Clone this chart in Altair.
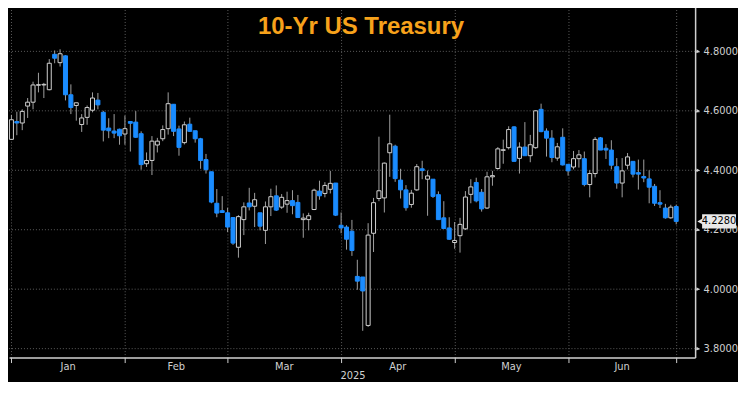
import altair as alt
import pandas as pd
import numpy as np

# ---- data ----
opens = [4.504, 4.564, 4.559, 4.616, 4.629, 4.686, 4.687, 4.671, 4.790, 4.762,
         4.785, 4.654, 4.618, 4.554, 4.578, 4.602, 4.636, 4.595, 4.542, 4.532,
         4.538, 4.522, 4.564, 4.562, 4.523, 4.422, 4.433, 4.485, 4.506, 4.540,
         4.622, 4.539, 4.493, 4.555, 4.533, 4.506, 4.436, 4.395, 4.289, 4.264,
         4.257, 4.241, 4.141, 4.234, 4.290, 4.279, 4.257, 4.198, 4.277, 4.314,
         4.276, 4.286, 4.298, 4.292, 4.234, 4.234, 4.268, 4.330, 4.322, 4.336,
         4.357, 4.215, 4.209, 4.195, 4.043, 4.041, 3.878, 4.188, 4.305, 4.307,
         4.459, 4.481, 4.367, 4.334, 4.285, 4.334, 4.405, 4.370, 4.370, 4.318,
         4.240, 4.206, 4.157, 4.180, 4.203, 4.319, 4.359, 4.326, 4.273, 4.378,
         4.406, 4.467, 4.476, 4.546, 4.440, 4.478, 4.449, 4.476, 4.605, 4.532,
         4.508, 4.441, 4.511, 4.420, 4.411, 4.439, 4.439, 4.352, 4.389, 4.509,
         4.474, 4.468, 4.412, 4.357, 4.417, 4.430, 4.392, 4.379, 4.371, 4.346,
         4.291, 4.273, 4.240, 4.278]
highs = [4.586, 4.597, 4.605, 4.643, 4.698, 4.728, 4.694, 4.774, 4.803, 4.807,
         4.787, 4.689, 4.627, 4.589, 4.618, 4.662, 4.660, 4.600, 4.575, 4.589,
         4.540, 4.584, 4.564, 4.599, 4.531, 4.460, 4.515, 4.509, 4.551, 4.662,
         4.622, 4.550, 4.564, 4.577, 4.533, 4.509, 4.455, 4.395, 4.337, 4.313,
         4.274, 4.241, 4.249, 4.292, 4.341, 4.324, 4.257, 4.295, 4.338, 4.349,
         4.320, 4.328, 4.333, 4.317, 4.255, 4.257, 4.338, 4.365, 4.360, 4.398,
         4.357, 4.258, 4.215, 4.233, 4.099, 4.041, 4.222, 4.307, 4.513, 4.426,
         4.587, 4.486, 4.405, 4.350, 4.334, 4.421, 4.432, 4.399, 4.370, 4.329,
         4.296, 4.242, 4.226, 4.240, 4.330, 4.370, 4.375, 4.337, 4.395, 4.398,
         4.478, 4.503, 4.548, 4.548, 4.494, 4.562, 4.519, 4.602, 4.624, 4.541,
         4.535, 4.492, 4.541, 4.420, 4.465, 4.468, 4.463, 4.400, 4.512, 4.512,
         4.488, 4.501, 4.441, 4.441, 4.458, 4.430, 4.436, 4.436, 4.400, 4.354,
         4.333, 4.287, 4.284, 4.284]
lows = [4.502, 4.518, 4.535, 4.576, 4.605, 4.662, 4.643, 4.669, 4.760, 4.749,
        4.635, 4.589, 4.567, 4.529, 4.553, 4.595, 4.605, 4.497, 4.508, 4.508,
        4.486, 4.486, 4.463, 4.509, 4.402, 4.411, 4.384, 4.460, 4.498, 4.520,
        4.515, 4.449, 4.487, 4.529, 4.493, 4.405, 4.389, 4.289, 4.242, 4.257,
        4.192, 4.149, 4.106, 4.182, 4.265, 4.209, 4.198, 4.152, 4.246, 4.263,
        4.270, 4.257, 4.252, 4.241, 4.173, 4.198, 4.266, 4.301, 4.309, 4.322,
        4.246, 4.188, 4.133, 4.112, 3.998, 3.860, 3.873, 4.125, 4.296, 4.258,
        4.378, 4.361, 4.305, 4.264, 4.274, 4.331, 4.370, 4.247, 4.307, 4.234,
        4.204, 4.166, 4.136, 4.123, 4.199, 4.289, 4.292, 4.261, 4.270, 4.348,
        4.402, 4.422, 4.470, 4.430, 4.389, 4.449, 4.427, 4.472, 4.528, 4.446,
        4.427, 4.432, 4.416, 4.382, 4.403, 4.409, 4.346, 4.309, 4.376, 4.468,
        4.438, 4.403, 4.338, 4.309, 4.403, 4.376, 4.335, 4.360, 4.289, 4.280,
        4.273, 4.237, 4.237, 4.218]
closes = [4.570, 4.559, 4.598, 4.629, 4.687, 4.688, 4.689, 4.760, 4.777, 4.792,
          4.654, 4.611, 4.627, 4.576, 4.611, 4.643, 4.620, 4.535, 4.533, 4.525,
          4.516, 4.540, 4.558, 4.511, 4.419, 4.433, 4.498, 4.498, 4.537, 4.624,
          4.531, 4.477, 4.553, 4.531, 4.506, 4.433, 4.402, 4.293, 4.256, 4.258,
          4.209, 4.155, 4.244, 4.277, 4.277, 4.301, 4.212, 4.277, 4.311, 4.266,
          4.309, 4.298, 4.281, 4.241, 4.239, 4.247, 4.333, 4.314, 4.349, 4.356,
          4.249, 4.206, 4.168, 4.130, 4.027, 3.994, 4.182, 4.291, 4.331, 4.424,
          4.489, 4.372, 4.334, 4.274, 4.323, 4.412, 4.399, 4.381, 4.312, 4.234,
          4.204, 4.168, 4.164, 4.218, 4.310, 4.344, 4.297, 4.270, 4.378, 4.382,
          4.472, 4.469, 4.537, 4.430, 4.478, 4.449, 4.486, 4.600, 4.530, 4.508,
          4.443, 4.479, 4.418, 4.398, 4.439, 4.452, 4.352, 4.389, 4.504, 4.468,
          4.468, 4.417, 4.357, 4.398, 4.445, 4.387, 4.387, 4.374, 4.343, 4.289,
          4.286, 4.240, 4.276, 4.228]

month_names = ["Jan", "Feb", "Mar", "Apr", "May", "Jun"]
month_starts = [1, 22, 41, 62, 83, 104, 124]   # trading-day index of first day of each month
major_ticks = [3.8, 4.0, 4.2, 4.4, 4.6, 4.8]
all_ticks = [3.8, 3.9, 4.0, 4.1, 4.2, 4.3, 4.4, 4.5, 4.6, 4.7, 4.8, 4.9]
title_text = "10-Yr US Treasury"
year_label = "2025"

# ---- layout ----
W, H = 688, 358
X_DOMAIN = [0.55, 127.5]
Y_DOMAIN = [3.770, 4.971]
BLUE = "#1a8cff"
LIGHT = "#d0d0d0"
GRID = "#5c5c5c"
FONT = "Liberation Sans Narrow, DejaVu Sans Condensed, Liberation Sans, sans-serif"

df = pd.DataFrame({
    "i": np.arange(1, len(opens) + 1),
    "open": opens, "high": highs, "low": lows, "close": closes,
})
df["dir"] = np.where(df["close"] >= df["open"], "up", "down")

xs = alt.Scale(domain=X_DOMAIN, nice=False, zero=False, padding=0)
ys = alt.Scale(domain=Y_DOMAIN, nice=False, zero=False, padding=0)

x_axis = alt.Axis(values=month_starts, labels=False, ticks=True, tickSize=5,
                  tickColor=LIGHT, domainColor=LIGHT, domainWidth=1.5,
                  grid=True, gridColor=GRID, gridDash=[1, 2], title=None)
y_axis = alt.Axis(orient="right", values=all_ticks, tickSize=4, tickColor=LIGHT,
                  domainColor=LIGHT, domainWidth=1.5, grid=False, title=None,
                  labelExpr="abs(round(datum.value*10)) % 2 == 0 ? format(datum.value, '.4f') : ''",
                  labelColor=LIGHT, labelFont=FONT, labelFontSize=11, labelPadding=4)

grid_df = pd.DataFrame({"v": major_ticks})
hgrid = alt.Chart(grid_df).mark_rule(color=GRID, strokeDash=[1, 2]).encode(
    y=alt.Y("v:Q", scale=ys, axis=y_axis)
)

wicks = alt.Chart(df).mark_rule(color="#a0a0a0", strokeWidth=1).encode(
    x=alt.X("i:Q", scale=xs, axis=x_axis),
    y=alt.Y("low:Q", scale=ys),
    y2="high:Q",
)

bodies = alt.Chart(df).mark_bar(width=4, strokeWidth=1).encode(
    x=alt.X("i:Q", scale=xs),
    y=alt.Y("open:Q", scale=ys),
    y2="close:Q",
    fill=alt.Fill("dir:N", scale=alt.Scale(domain=["up", "down"], range=["#000000", BLUE]), legend=None),
    stroke=alt.Stroke("dir:N", scale=alt.Scale(domain=["up", "down"], range=[LIGHT, BLUE]), legend=None),
)

tri = alt.Chart(grid_df).mark_point(shape="triangle-right", filled=True, size=14,
                                    color=LIGHT, opacity=1).encode(
    x=alt.value(W + 3),
    y=alt.Y("v:Q", scale=ys),
)

mid_df = pd.DataFrame({
    "m": month_names,
    "pos": [(month_starts[k] + month_starts[k + 1]) / 2 for k in range(len(month_names))],
})
month_text = alt.Chart(mid_df).mark_text(color=LIGHT, font=FONT, fontSize=11,
                                          baseline="middle", align="center").encode(
    x=alt.X("pos:Q", scale=xs),
    y=alt.value(H + 9),
    text="m:N",
)

year_df = pd.DataFrame({"t": [year_label]})
year_text = alt.Chart(year_df).mark_text(color=LIGHT, font=FONT, fontSize=11,
                                         baseline="middle", align="center").encode(
    x=alt.value(345),
    y=alt.value(H + 19),
    text="t:N",
)

title_df = pd.DataFrame({"t": [title_text]})
title = alt.Chart(title_df).mark_text(color="#f7a21b", font="Liberation Sans", fontSize=24,
                                      fontWeight="bold", baseline="middle", align="center").encode(
    x=alt.value(353),
    y=alt.value(27),
    text="t:N",
)

last_df = pd.DataFrame({"v": [closes[-1]], "top": [closes[-1] + 0.024],
                        "bot": [closes[-1] - 0.024],
                        "t": [format(closes[-1], ".4f")]})
last_box = alt.Chart(last_df).mark_rect(color="#e8e8e8").encode(
    x=alt.value(W + 7), x2=alt.value(W + 41),
    y=alt.Y("top:Q", scale=ys), y2="bot:Q",
)
last_arrow = alt.Chart(last_df).mark_point(shape="triangle-left", filled=True, size=40,
                                           color="#e8e8e8", opacity=1).encode(
    x=alt.value(W + 5),
    y=alt.Y("v:Q", scale=ys),
)
last_text = alt.Chart(last_df).mark_text(color="#000000", font=FONT, fontSize=11,
                                         baseline="middle", align="center").encode(
    x=alt.value(W + 24),
    y=alt.Y("v:Q", scale=ys),
    text="t:N",
)

chart = alt.layer(
    hgrid, wicks, bodies, tri, month_text, year_text, title, last_box, last_arrow, last_text
).properties(
    width=W, height=H, background="#000000",
    padding={"left": 0, "top": -8, "right": 0, "bottom": 0}
).configure_view(stroke=None)

chart.save("out.html", embed_options={"renderer": "svg", "actions": False})
